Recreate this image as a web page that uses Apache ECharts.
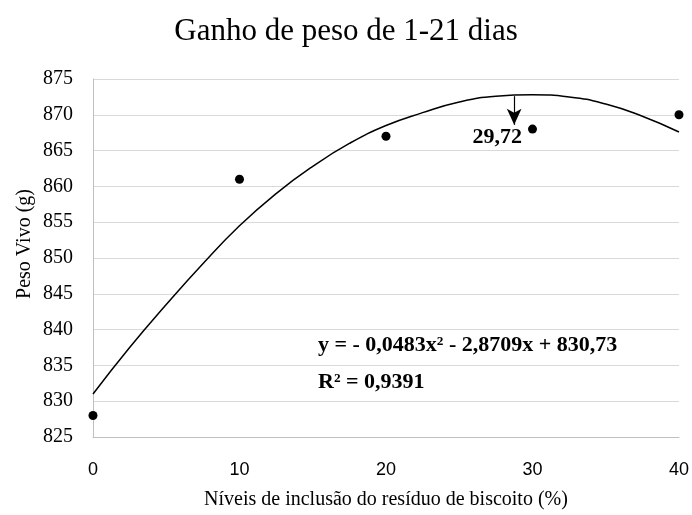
<!DOCTYPE html>
<html>
<head>
<meta charset="utf-8">
<script src="https://cdn.jsdelivr.net/npm/echarts@6/dist/echarts.min.js"></script>
<style>html,body{margin:0;padding:0;background:#fff}#c{width:692px;height:515px}</style>
</head>
<body>
<div id="c"></div>
<script>
// Observed points
var levels = [0, 10, 20, 30, 40];
var weights = [828, 861, 867, 868, 870];
// Trendline values
var trendX = [0, 2.5, 5, 7.5, 10, 12.5, 15, 17.5, 20, 22.5, 25, 27.5, 30, 32.5, 35, 37.5, 40];
var trendY = [831.0, 837.5, 843.5, 849.2, 854.5, 859.0, 862.8, 866.0, 868.5, 870.3, 871.8, 872.6, 872.8, 872.5, 871.5, 869.8, 867.6];
var xTicks = [0, 10, 20, 30, 40];
var yTicks = [825, 830, 835, 840, 845, 850, 855, 860, 865, 870, 875];
var titleText = 'Ganho de peso de 1-21 dias';
var xName = 'Níveis de inclusão do resíduo de biscoito (%)';
var yName = 'Peso Vivo (g)';
var eqText = 'y = - 0,0483x² - 2,8709x + 830,73';
var r2Text = 'R² = 0,9391';
var optLabel = '29,72';
var arrowX = 28.75, arrowTop = 872.6, arrowTip = 868.6;
var optLabelPos = [27.6, 866.8];

var chart = echarts.init(document.getElementById('c'), null, {renderer: 'canvas'});
var serif = '"Liberation Serif", "Times New Roman", serif';
chart.setOption({
  animation: false,
  backgroundColor: '#fff',
  title: {
    text: titleText, left: 'center', top: 11,
    textStyle: {fontFamily: serif, fontSize: 31, fontWeight: 'normal', color: '#000'}
  },
  grid: {left: 93, right: 9, top: 79, bottom: 77},
  xAxis: {
    type: 'value', min: xTicks[0], max: xTicks[xTicks.length - 1], interval: 10,
    name: xName, nameLocation: 'middle', nameGap: 53,
    nameTextStyle: {fontFamily: serif, fontSize: 20, color: '#000'},
    axisLine: {show: true, lineStyle: {color: '#bfbfbf', width: 1}},
    axisTick: {show: false},
    splitLine: {show: false},
    axisLabel: {fontFamily: '"Liberation Sans", Arial, sans-serif', fontSize: 18, color: '#000', margin: 24}
  },
  yAxis: {
    type: 'value', min: yTicks[0], max: yTicks[yTicks.length - 1], interval: 5,
    axisLine: {show: true, lineStyle: {color: '#bfbfbf', width: 1}},
    axisTick: {show: false},
    splitLine: {show: true, lineStyle: {color: '#d9d9d9', width: 1}},
    axisLabel: {fontFamily: serif, fontSize: 20, color: '#000', margin: 20}
  },
  graphic: [
    {type: 'text', x: 25, y: 244, rotation: Math.PI / 2, style: {text: yName, font: '20px ' + serif, fill: '#000', textAlign: 'center', textVerticalAlign: 'middle'}},
    {type: 'text', x: 318, y: 345, style: {text: eqText, font: 'bold 22px ' + serif, fill: '#000', textVerticalAlign: 'middle'}},
    {type: 'text', x: 318, y: 382, style: {text: r2Text, font: 'bold 22px ' + serif, fill: '#000', textVerticalAlign: 'middle'}}
  ],
  series: [
    {
      type: 'line', smooth: true, showSymbol: false,
      data: trendX.map(function (x, i) { return [x, trendY[i]]; }),
      lineStyle: {color: '#000', width: 1.5},
      z: 2
    },
    {
      type: 'scatter', symbolSize: 9,
      data: levels.map(function (x, i) { return [x, weights[i]]; }),
      itemStyle: {color: '#000', opacity: 1},
      z: 3,
      markLine: {
        silent: true, symbol: ['none', 'arrow'], symbolSize: [11, 16],
        lineStyle: {color: '#000', width: 1.2, type: 'solid'},
        label: {show: false},
        data: [[{coord: [arrowX, arrowTop]}, {coord: [arrowX, arrowTip]}]]
      },
      markPoint: {
        symbol: 'circle', symbolSize: 1, itemStyle: {color: 'rgba(0,0,0,0)'},
        label: {show: true, position: 'inside', formatter: optLabel, fontFamily: serif, fontWeight: 'bold', fontSize: 22, color: '#000'},
        data: [{coord: optLabelPos}]
      }
    }
  ]
});
</script>
</body>
</html>
